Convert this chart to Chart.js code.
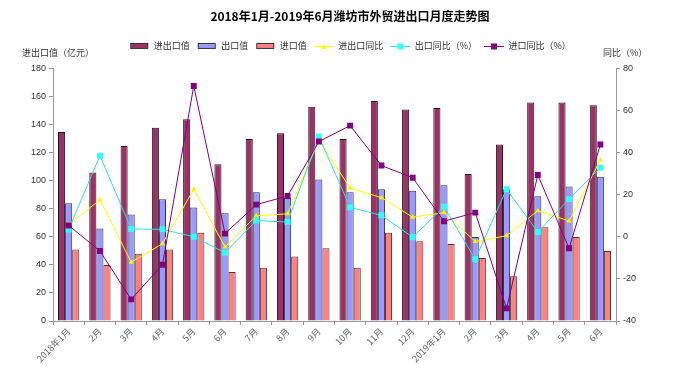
<!DOCTYPE html>
<html>
<head>
<meta charset="utf-8">
<script src="https://cdn.jsdelivr.net/npm/chart.js@4"></script>
<style>
  body { margin: 0; background: #fff; }
</style>
</head>
<body>
<canvas id="tradeChart" width="700" height="371"></canvas>
<script>
// Data - Weifang foreign trade, Jan 2018 to Jun 2019
const months = ['2018年1月', '2月', '3月', '4月', '5月', '6月', '7月', '8月', '9月', '10月', '11月', '12月',
  '2019年1月', '2月', '3月', '4月', '5月', '6月'];
const totalValue = [135, 106, 125, 138, 144, 112, 130, 134, 153, 130, 157, 151, 152, 105, 126, 156, 156, 154];
const exportValue = [84, 66, 76, 87, 81, 77, 92, 88, 101, 92, 94, 93, 97, 60, 94, 89, 96, 103];
const importValue = [51, 40, 48, 51, 63, 35, 38, 46, 52, 38, 63, 57, 55, 45, 32, 67, 60, 50];
const totalYoY = [6, 17.6, -12, -3.2, 22.7, -4.8, 10.1, 11, 46, 23.3, 18.7, 9.4, 11.6, -2.2, 0.6, 12.5, 7.6, 36.7];
const exportYoY = [3.5, 38.7, 3.8, 3.6, 0.1, -7.5, 7.8, 7.1, 47.8, 14.1, 10.3, -0.1, 14.4, -10.6, 22.7, 2.4, 18, 33];
const importYoY = [5.5, -6.7, -29.7, -13.2, 71.9, 1.6, 15.4, 19.5, 45.4, 53, 34, 28.2, 7.5, 11.6, -34, 29.5, -5.4, 44];
const leftTicks = [0, 180, 20];
const rightTicks = [-40, 80, 20];

const FONT = '"Liberation Sans", Arial, "Noto Sans CJK SC", sans-serif';
const CJK = '"Noto Sans CJK SC", "Liberation Sans", sans-serif';

// legend icons drawn on small canvases
function makeIcon(kind, fill, stroke) {
  const c = document.createElement('canvas');
  c.width = 20; c.height = 8;
  const g = c.getContext('2d');
  if (kind === 'bar') {
    g.fillStyle = fill;
    g.fillRect(1.5, 1.5, 17, 5);
    g.strokeStyle = '#333';
    g.lineWidth = 1;
    g.strokeRect(1.5, 1.5, 17, 5);
  } else {
    g.strokeStyle = stroke;
    g.lineWidth = 1;
    g.beginPath(); g.moveTo(0, 4.5); g.lineTo(20, 4.5); g.stroke();
    g.fillStyle = fill;
    if (kind === 'triangle') {
      g.beginPath(); g.moveTo(10, 2); g.lineTo(13, 7); g.lineTo(7, 7); g.closePath(); g.fill();
    } else {
      g.fillRect(7, 1.5, 6, 6);
    }
  }
  return c;
}

const icons = [
  makeIcon('bar', '#993366'),
  makeIcon('bar', '#9999FF'),
  makeIcon('bar', '#FF8080'),
  makeIcon('triangle', '#FFFF00', '#FFFF00'),
  makeIcon('square', '#33FFFF', '#33DDDD'),
  makeIcon('square', '#800080', '#800080')
];

// axis titles above the plot
const axisTitles = {
  id: 'axisTitles',
  afterDraw(chart) {
    const c = chart.ctx;
    c.save();
    c.font = '9px ' + CJK;
    c.fillStyle = '#333';
    c.textBaseline = 'middle';
    c.textAlign = 'left';
    c.fillText('进出口值（亿元）', 22, 53);
    c.fillText('同比（%）', 603, 53);
    c.restore();
  }
};

// fix legend block height so the plot starts at the right place
const legendHeight = {
  id: 'legendHeight',
  beforeInit(chart) {
    const fit = chart.legend.fit;
    chart.legend.fit = function () {
      fit.call(this);
      this.height = 34.5;
    };
  }
};

const ctx = document.getElementById('tradeChart').getContext('2d');
const tradeChart = new Chart(ctx, {
  type: 'bar',
  data: {
    labels: months,
    datasets: [
      { label: '进出口值', data: totalValue, backgroundColor: '#993366', borderColor: '#2b1020', borderWidth: 1, yAxisID: 'y', order: 4 },
      { label: '出口值', data: exportValue, backgroundColor: '#9999FF', borderColor: '#333355', borderWidth: 1, yAxisID: 'y', order: 4 },
      { label: '进口值', data: importValue, backgroundColor: '#FF8080', borderColor: '#553333', borderWidth: 1, yAxisID: 'y', order: 4 },
      { type: 'line', label: '进出口同比', data: totalYoY, borderColor: '#FFFF00', backgroundColor: '#FFFF00', borderWidth: 1,
        pointStyle: 'triangle', pointRadius: 3, pointBorderWidth: 0, pointBackgroundColor: '#FFEE00', yAxisID: 'y1', order: 3 },
      { type: 'line', label: '出口同比（%）', data: exportYoY, borderColor: '#33DDDD', backgroundColor: '#33FFFF', borderWidth: 1,
        pointStyle: 'rect', pointRadius: 4.2, pointBorderWidth: 0, pointBackgroundColor: '#33FFFF', yAxisID: 'y1', order: 2 },
      { type: 'line', label: '进口同比（%）', data: importYoY, borderColor: '#800080', backgroundColor: '#800080', borderWidth: 1,
        pointStyle: 'rect', pointRadius: 4.2, pointBorderWidth: 0, pointBackgroundColor: '#800080', yAxisID: 'y1', order: 1 }
    ]
  },
  options: {
    responsive: false,
    animation: false,
    layout: { padding: 0 },
    datasets: {
      bar: { categoryPercentage: 0.68, barPercentage: 1 }
    },
    plugins: {
      title: {
        display: true,
        text: '2018年1月-2019年6月潍坊市外贸进出口月度走势图',
        color: '#000',
        font: { size: 12, weight: 'bold', family: CJK },
        padding: { top: 9, bottom: 11 }
      },
      legend: {
        display: true,
        labels: {
          usePointStyle: true,
          pointStyleWidth: 20,
          padding: 7,
          color: '#333',
          font: { size: 9, family: CJK },
          generateLabels: chart => chart.data.datasets.map((ds, i) => ({
            text: ds.label,
            pointStyle: icons[i],
            fillStyle: 'transparent',
            strokeStyle: 'transparent',
            lineWidth: 0,
            fontColor: '#333',
            hidden: false,
            datasetIndex: i
          }))
        }
      },
      tooltip: { enabled: false }
    },
    scales: {
      x: {
        grid: { display: true, drawOnChartArea: false, tickLength: 4, color: '#999' },
        border: { color: '#999' },
        ticks: { minRotation: 45, maxRotation: 45, autoSkip: false, color: '#666', font: { size: 9, family: CJK }, padding: 1 },
        afterFit: s => { s.height = 50; }
      },
      y: {
        position: 'left',
        min: leftTicks[0], max: leftTicks[1],
        grid: { drawOnChartArea: false, tickLength: 4, color: '#999' },
        border: { color: '#999' },
        ticks: { stepSize: leftTicks[2], color: '#333', font: { size: 9, family: FONT }, padding: 3 },
        afterFit: s => { s.width = 53; }
      },
      y1: {
        position: 'right',
        min: rightTicks[0], max: rightTicks[1],
        grid: { drawOnChartArea: false, tickLength: 4, color: '#999' },
        border: { color: '#999' },
        ticks: { stepSize: rightTicks[2], color: '#333', font: { size: 9, family: FONT }, padding: 3 },
        afterFit: s => { s.width = 84; }
      }
    }
  },
  plugins: [axisTitles, legendHeight]
});
</script>
</body>
</html>
